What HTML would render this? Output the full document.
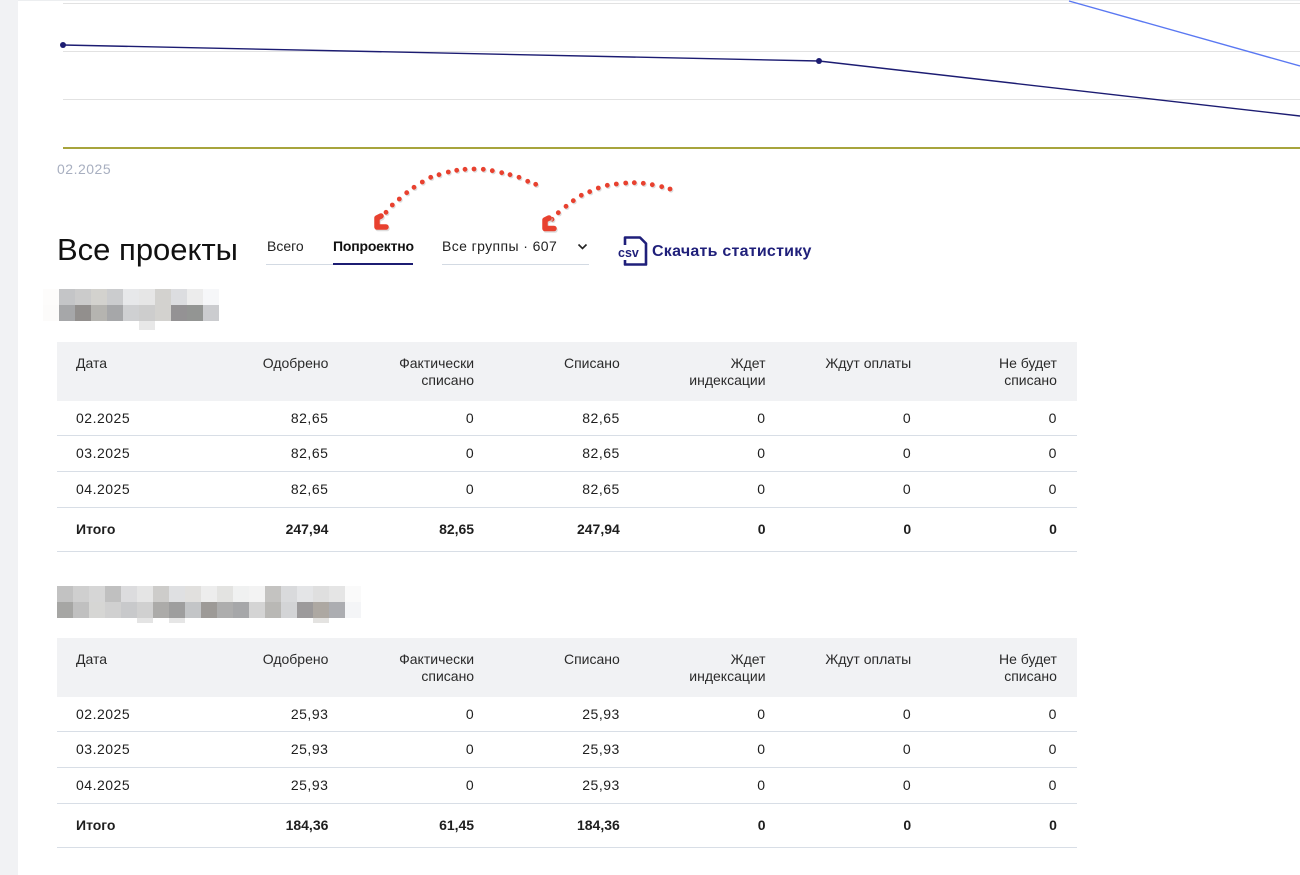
<!DOCTYPE html>
<html lang="ru">
<head>
<meta charset="utf-8">
<style>
  html,body{margin:0;padding:0;}
  body{width:1300px;height:875px;position:relative;overflow:hidden;background:#fff;
       font-family:"Liberation Sans","Noto Sans CJK SC",sans-serif;color:#1e1e1e;}
  .strip{position:absolute;left:0;top:0;width:18px;height:875px;background:#f1f2f4;}
  .abs{position:absolute;white-space:nowrap;}
  .tbl{position:absolute;left:57px;width:1020px;font-size:14px;}
  .row{display:flex;box-sizing:border-box;border-bottom:1px solid #d8dee6;}
  .row>div{width:145.71px;box-sizing:border-box;padding:0 20px 0 19px;text-align:right;}
  .row>div:first-child{text-align:left;}
  .hd{height:59px;background:#f1f2f4;border-bottom:none;color:#2a2a2a;}
  .hd>div{padding-top:13px;line-height:17px;}
  .dr{height:35px;line-height:34px;}
  .dr.b{height:36px;line-height:35px;}
  .dr>div{letter-spacing:0.5px;}
  .tr{height:44px;line-height:42px;font-weight:bold;}
  .px{position:absolute;width:16px;height:16px;}
</style>
</head>
<body>
<div class="strip"></div>

<!-- chart -->
<svg class="abs" style="left:0;top:0" width="1300" height="160" viewBox="0 0 1300 160">
  <line x1="18" y1="0.5" x2="1300" y2="0.5" stroke="#eceef0" stroke-width="1"/>
  <line x1="63" y1="3.5" x2="1300" y2="3.5" stroke="#e2e2e2" stroke-width="1"/>
  <line x1="63" y1="51.5" x2="1300" y2="51.5" stroke="#e2e2e2" stroke-width="1"/>
  <line x1="63" y1="99.5" x2="1300" y2="99.5" stroke="#e2e2e2" stroke-width="1"/>
  <line x1="63" y1="148" x2="1300" y2="148" stroke="#a7a43c" stroke-width="2"/>
  <polyline points="1069,1 1300,66" fill="none" stroke="#5a78f2" stroke-width="1.4"/>
  <polyline points="63,45 819,61 1300,116" fill="none" stroke="#1c1c72" stroke-width="1.4"/>
  <circle cx="63" cy="45" r="3" fill="#1c1c72"/>
  <circle cx="819" cy="61" r="3" fill="#1c1c72"/>
</svg>
<div class="abs" style="left:57px;top:160px;line-height:18px;font-size:14px;letter-spacing:0.5px;color:#a8afc0;">02.2025</div>

<!-- red arrows -->
<svg class="abs" style="left:0;top:0" width="1300" height="260" viewBox="0 0 1300 260">
  <g fill="#cfcfcf" opacity="0.7" transform="translate(1,1.3)">
    <circle cx="535.7" cy="184.3" r="2.4"/><circle cx="527.7" cy="181.3" r="2.4"/><circle cx="519" cy="177.3" r="2.4"/><circle cx="510" cy="174.7" r="2.4"/><circle cx="501.7" cy="172.7" r="2.4"/><circle cx="492.3" cy="170.7" r="2.4"/><circle cx="483.3" cy="169.3" r="2.4"/><circle cx="474" cy="169" r="2.4"/><circle cx="465" cy="169.3" r="2.4"/><circle cx="456.7" cy="170.3" r="2.4"/><circle cx="448.3" cy="172" r="2.4"/><circle cx="439" cy="174.7" r="2.4"/><circle cx="430.7" cy="177.3" r="2.4"/><circle cx="422.3" cy="182" r="2.4"/><circle cx="414" cy="187.3" r="2.4"/><circle cx="406.7" cy="192.7" r="2.4"/><circle cx="399.3" cy="199" r="2.4"/><circle cx="392.3" cy="205" r="2.4"/><circle cx="386" cy="212.3" r="2.4"/>
    <circle cx="670" cy="189" r="2.4"/><circle cx="661.7" cy="186.7" r="2.4"/><circle cx="652.3" cy="184.7" r="2.4"/><circle cx="643.3" cy="183.3" r="2.4"/><circle cx="634.3" cy="182.7" r="2.4"/><circle cx="625.7" cy="183" r="2.4"/><circle cx="616.3" cy="184" r="2.4"/><circle cx="607.3" cy="185.3" r="2.4"/><circle cx="598.3" cy="188" r="2.4"/><circle cx="589.7" cy="191.7" r="2.4"/><circle cx="581.3" cy="195.3" r="2.4"/><circle cx="573.3" cy="200.7" r="2.4"/><circle cx="566" cy="206.3" r="2.4"/><circle cx="558.3" cy="212.7" r="2.4"/><circle cx="552" cy="219.3" r="2.4"/>
  </g>
  <g fill="#e8412f">
    <circle cx="535.7" cy="184.3" r="2.4"/><circle cx="527.7" cy="181.3" r="2.4"/><circle cx="519" cy="177.3" r="2.4"/><circle cx="510" cy="174.7" r="2.4"/><circle cx="501.7" cy="172.7" r="2.4"/><circle cx="492.3" cy="170.7" r="2.4"/><circle cx="483.3" cy="169.3" r="2.4"/><circle cx="474" cy="169" r="2.4"/><circle cx="465" cy="169.3" r="2.4"/><circle cx="456.7" cy="170.3" r="2.4"/><circle cx="448.3" cy="172" r="2.4"/><circle cx="439" cy="174.7" r="2.4"/><circle cx="430.7" cy="177.3" r="2.4"/><circle cx="422.3" cy="182" r="2.4"/><circle cx="414" cy="187.3" r="2.4"/><circle cx="406.7" cy="192.7" r="2.4"/><circle cx="399.3" cy="199" r="2.4"/><circle cx="392.3" cy="205" r="2.4"/><circle cx="386" cy="212.3" r="2.4"/>
    <circle cx="670" cy="189" r="2.4"/><circle cx="661.7" cy="186.7" r="2.4"/><circle cx="652.3" cy="184.7" r="2.4"/><circle cx="643.3" cy="183.3" r="2.4"/><circle cx="634.3" cy="182.7" r="2.4"/><circle cx="625.7" cy="183" r="2.4"/><circle cx="616.3" cy="184" r="2.4"/><circle cx="607.3" cy="185.3" r="2.4"/><circle cx="598.3" cy="188" r="2.4"/><circle cx="589.7" cy="191.7" r="2.4"/><circle cx="581.3" cy="195.3" r="2.4"/><circle cx="573.3" cy="200.7" r="2.4"/><circle cx="566" cy="206.3" r="2.4"/><circle cx="558.3" cy="212.7" r="2.4"/><circle cx="552" cy="219.3" r="2.4"/>
  </g>
  <path d="M381 216 L377 218 L377 227 L386 227" fill="none" stroke="#cfcfcf" stroke-width="5.5" stroke-linecap="round" stroke-linejoin="round" transform="translate(1,1.5)" opacity="0.7"/>
  <path d="M381 216 L377 218 L377 227 L386 227" fill="none" stroke="#e8412f" stroke-width="5.5" stroke-linecap="round" stroke-linejoin="round"/>
  <path d="M549 218 L545 220 L545 228.5 L554 228.5" fill="none" stroke="#cfcfcf" stroke-width="5.5" stroke-linecap="round" stroke-linejoin="round" transform="translate(1,1.5)" opacity="0.7"/>
  <path d="M549 218 L545 220 L545 228.5 L554 228.5" fill="none" stroke="#e8412f" stroke-width="5.5" stroke-linecap="round" stroke-linejoin="round"/>
</svg>

<!-- header controls -->
<div class="abs" style="left:57px;top:233px;font-size:31px;line-height:34px;color:#111;">Все проекты</div>
<div class="abs" style="left:267px;top:236px;font-size:14px;line-height:20px;color:#222;">Всего</div>
<div class="abs" style="left:333px;top:236px;font-size:14px;line-height:20px;font-weight:bold;color:#111;letter-spacing:-0.2px;">Попроектно</div>
<div class="abs" style="left:266px;top:264px;width:147px;height:1px;background:#d3dae3;"></div>
<div class="abs" style="left:333px;top:263px;width:80px;height:2px;background:#1c1c72;"></div>
<div class="abs" style="left:442px;top:236px;font-size:14px;line-height:20px;color:#222;letter-spacing:0.4px;">Все группы&nbsp;·&nbsp;607</div>
<svg class="abs" style="left:576px;top:242px" width="14" height="10" viewBox="0 0 14 10"><path d="M2.5 2.5 L6.5 6.5 L10.5 2.5" fill="none" stroke="#222" stroke-width="1.6"/></svg>
<div class="abs" style="left:442px;top:264px;width:147px;height:1px;background:#d3dae3;"></div>

<svg class="abs" style="left:615px;top:234px" width="36" height="36" viewBox="0 0 36 36">
  <path d="M10 3.5 L25 3.5 L31 9.5 L31 30.5 L10 30.5 Z" fill="#fff" stroke="#1f1f7a" stroke-width="2.6" stroke-linejoin="round"/>
  <rect x="2" y="11" width="25" height="15" fill="#fff"/>
  <text x="3" y="23" font-family="Liberation Sans, sans-serif" font-size="12.5" font-weight="bold" fill="#1f1f7a">csv</text>
</svg>
<div class="abs" style="left:652px;top:242px;font-size:16px;line-height:20px;font-weight:bold;color:#1f1f7a;letter-spacing:0.25px;">Скачать статистику</div>

<!-- pixel block 1 -->
<div class="px" style="left:43px;top:289px;background:#fdfcfb"></div><div class="px" style="left:59px;top:289px;background:#c4c5c7"></div><div class="px" style="left:75px;top:289px;background:#cbcbcb"></div><div class="px" style="left:91px;top:289px;background:#d3d2ce"></div><div class="px" style="left:107px;top:289px;background:#cbccce"></div><div class="px" style="left:123px;top:289px;background:#e7e8ea"></div><div class="px" style="left:139px;top:289px;background:#e6e6e6"></div><div class="px" style="left:155px;top:289px;background:#d3d2cf"></div><div class="px" style="left:171px;top:289px;background:#dcdde0"></div><div class="px" style="left:187px;top:289px;background:#ececec"></div><div class="px" style="left:203px;top:289px;background:#f6f7f9"></div>
<div class="px" style="left:43px;top:305px;background:#fcfbfa"></div><div class="px" style="left:59px;top:305px;background:#a6a7a9"></div><div class="px" style="left:75px;top:305px;background:#928f8d"></div><div class="px" style="left:91px;top:305px;background:#b5b4b0"></div><div class="px" style="left:107px;top:305px;background:#a6a7a9"></div><div class="px" style="left:123px;top:305px;background:#cfd0d2"></div><div class="px" style="left:139px;top:305px;background:#cdcdcd"></div><div class="px" style="left:155px;top:305px;background:#d3d2cf"></div><div class="px" style="left:171px;top:305px;background:#949294"></div><div class="px" style="left:187px;top:305px;background:#939593"></div><div class="px" style="left:203px;top:305px;background:#cbcccf"></div>
<div class="px" style="left:139px;top:321px;height:9px;background:#e8e8e8"></div>

<!-- table 1 -->
<div class="tbl" style="top:342px;">
  <div class="row hd"><div>Дата</div><div>Одобрено</div><div>Фактически<br>списано</div><div>Списано</div><div>Ждет<br>индексации</div><div>Ждут оплаты</div><div>Не будет<br>списано</div></div>
  <div class="row dr"><div>02.2025</div><div>82,65</div><div>0</div><div>82,65</div><div>0</div><div>0</div><div>0</div></div>
  <div class="row dr b"><div>03.2025</div><div>82,65</div><div>0</div><div>82,65</div><div>0</div><div>0</div><div>0</div></div>
  <div class="row dr b"><div>04.2025</div><div>82,65</div><div>0</div><div>82,65</div><div>0</div><div>0</div><div>0</div></div>
  <div class="row tr"><div>Итого</div><div>247,94</div><div>82,65</div><div>247,94</div><div>0</div><div>0</div><div>0</div></div>
</div>

<!-- pixel block 2 -->
<div class="px" style="left:57px;top:586px;background:#c2c2c2"></div><div class="px" style="left:73px;top:586px;background:#cfcfcf"></div><div class="px" style="left:89px;top:586px;background:#d6d6d6"></div><div class="px" style="left:105px;top:586px;background:#c0c0c0"></div><div class="px" style="left:121px;top:586px;background:#dcdcde"></div><div class="px" style="left:137px;top:586px;background:#e5e5e5"></div><div class="px" style="left:153px;top:586px;background:#cdccca"></div><div class="px" style="left:169px;top:586px;background:#dfe0e2"></div><div class="px" style="left:185px;top:586px;background:#e1e0de"></div><div class="px" style="left:201px;top:586px;background:#ededed"></div><div class="px" style="left:217px;top:586px;background:#e3e3e1"></div><div class="px" style="left:233px;top:586px;background:#f0f1f1"></div><div class="px" style="left:249px;top:586px;background:#f3f3f3"></div><div class="px" style="left:265px;top:586px;background:#c4c3c1"></div><div class="px" style="left:281px;top:586px;background:#d9dadc"></div><div class="px" style="left:297px;top:586px;background:#e4e5e7"></div><div class="px" style="left:313px;top:586px;background:#dfdfdf"></div><div class="px" style="left:329px;top:586px;background:#e5e5e5"></div><div class="px" style="left:345px;top:586px;background:#fafafa"></div>
<div class="px" style="left:57px;top:602px;background:#a6a6a4"></div><div class="px" style="left:73px;top:602px;background:#c0c0c0"></div><div class="px" style="left:89px;top:602px;background:#d6d6d4"></div><div class="px" style="left:105px;top:602px;background:#d0d0d0"></div><div class="px" style="left:121px;top:602px;background:#c8c9cb"></div><div class="px" style="left:137px;top:602px;background:#d0d0d0"></div><div class="px" style="left:153px;top:602px;background:#acaba9"></div><div class="px" style="left:169px;top:602px;background:#9e9e9e"></div><div class="px" style="left:185px;top:602px;background:#c3c5c7"></div><div class="px" style="left:201px;top:602px;background:#9d9a97"></div><div class="px" style="left:217px;top:602px;background:#adadad"></div><div class="px" style="left:233px;top:602px;background:#a6a7a9"></div><div class="px" style="left:249px;top:602px;background:#d4d4d4"></div><div class="px" style="left:265px;top:602px;background:#b9b8b5"></div><div class="px" style="left:281px;top:602px;background:#d3d4d6"></div><div class="px" style="left:297px;top:602px;background:#9c9a9b"></div><div class="px" style="left:313px;top:602px;background:#ada8a2"></div><div class="px" style="left:329px;top:602px;background:#acadb1"></div><div class="px" style="left:345px;top:602px;background:#f4f5f7"></div>
<div class="px" style="left:137px;top:618px;height:5px;background:#e4e4e4"></div><div class="px" style="left:169px;top:618px;height:5px;background:#e6e6e6"></div><div class="px" style="left:313px;top:618px;height:5px;background:#e4e3e1"></div>

<!-- table 2 -->
<div class="tbl" style="top:638px;">
  <div class="row hd"><div>Дата</div><div>Одобрено</div><div>Фактически<br>списано</div><div>Списано</div><div>Ждет<br>индексации</div><div>Ждут оплаты</div><div>Не будет<br>списано</div></div>
  <div class="row dr"><div>02.2025</div><div>25,93</div><div>0</div><div>25,93</div><div>0</div><div>0</div><div>0</div></div>
  <div class="row dr b"><div>03.2025</div><div>25,93</div><div>0</div><div>25,93</div><div>0</div><div>0</div><div>0</div></div>
  <div class="row dr b"><div>04.2025</div><div>25,93</div><div>0</div><div>25,93</div><div>0</div><div>0</div><div>0</div></div>
  <div class="row tr"><div>Итого</div><div>184,36</div><div>61,45</div><div>184,36</div><div>0</div><div>0</div><div>0</div></div>
</div>
</body>
</html>
